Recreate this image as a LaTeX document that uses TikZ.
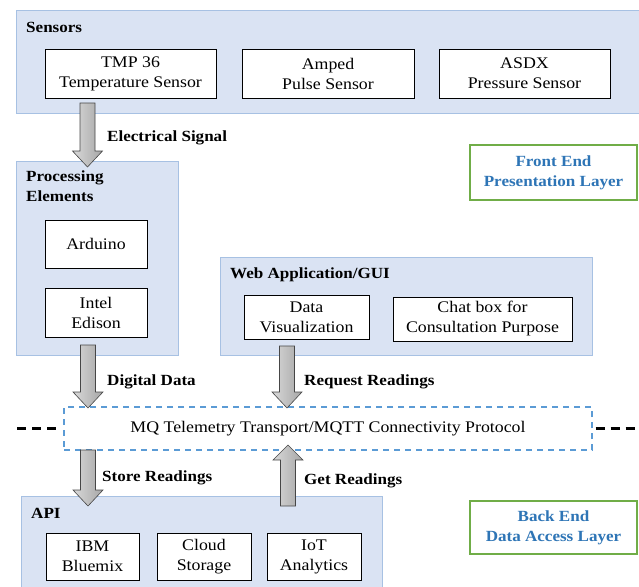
\documentclass[tikz,border=0pt]{standalone}
\usepackage{fontspec}
\setmainfont[FakeStretch=1.1]{Liberation Serif}
\usetikzlibrary{calc}

\definecolor{panelfill}{HTML}{DAE3F3}
\definecolor{panelline}{HTML}{A7C1E3}
\definecolor{layerblue}{HTML}{2E75B6}
\definecolor{layergreen}{HTML}{70AD47}
\definecolor{mqttline}{HTML}{5B9BD5}

\newcommand{\boxfont}{\fontsize{16.2}{20}\selectfont}
\newcommand{\headfont}{\fontsize{15.5}{20}\selectfont\bfseries}

\tikzset{
  panel/.style={draw=panelline, fill=panelfill, line width=0.8pt, anchor=north west, inner sep=0pt},
  item/.style={draw, fill=white, line width=0.9pt, align=center, inner sep=0pt},
  title/.style={anchor=west, font=\headfont, inner sep=0pt},
  flowlabel/.style={anchor=west, font=\headfont, inner sep=0pt},
  layer/.style={draw=layergreen, line width=1.2pt, fill=white, align=center, text=layerblue, font=\headfont, inner sep=0pt},
  barrow/.style={draw=gray!55!black, line width=0.6pt, left color=gray!30, right color=gray!70},
  sidedash/.style={line width=2.4pt, dash pattern=on 9pt off 6pt}
}

% block arrows: tail, tip
\newcommand{\arrdown}[2]{\draw[barrow] ($(#1)+(-7.5,0)$) -- ($(#2)+(-7.5,-16)$) -- ($(#2)+(-15,-16)$) -- (#2) -- ($(#2)+(15,-16)$) -- ($(#2)+(7.5,-16)$) -- ($(#1)+(7.5,0)$) -- cycle;}
\newcommand{\arrup}[2]{\draw[barrow] ($(#1)+(-7.5,0)$) -- ($(#2)+(-7.5,15)$) -- ($(#2)+(-15,15)$) -- (#2) -- ($(#2)+(15,15)$) -- ($(#2)+(7.5,15)$) -- ($(#1)+(7.5,0)$) -- cycle;}

\begin{document}
\begin{tikzpicture}[x=1pt, y=-1pt, font=\boxfont]
    \useasboundingbox (0,0) rectangle (639,586);
    % panels
    \node[panel, minimum width=625pt, minimum height=103pt] (sensors) at (16,10) {};
    \node[panel, minimum width=162pt, minimum height=194pt] (proc) at (16,161) {};
    \node[panel, minimum width=372pt, minimum height=98pt] (web) at (220,257) {};
    \node[panel, minimum width=361pt, minimum height=100pt] (api) at (21,496) {};
    \node[title] at (26,27) {Sensors};
    \node[title, anchor=north west, align=left] at (26,171) {Processing\\Elements};
    \node[title] at (230,275) {Web Application/GUI};
    \node[title] at (31,513) {API};

    % boxes
    \node[item, minimum width=171pt, minimum height=49pt] (tmp) at (130.5,73.5) {TMP 36\\Temperature Sensor};
    \node[item, minimum width=172pt, minimum height=49pt] (amped) at (328,73.5) {Amped\\Pulse Sensor};
    \node[item, minimum width=171pt, minimum height=49pt] (asdx) at (524.5,73.5) {ASDX\\Pressure Sensor};
    \node[item, minimum width=102pt, minimum height=48pt] (arduino) at (96,244) {Arduino};
    \node[item, minimum width=102pt, minimum height=49pt] (edison) at (96,312.5) {Intel\\Edison};
    \node[item, minimum width=125pt, minimum height=44pt] (dataviz) at (306.5,317) {Data\\Visualization};
    \node[item, minimum width=179pt, minimum height=44pt] (chat) at (482.5,319) {Chat box for\\Consultation Purpose};
    \node[item, minimum width=93pt, minimum height=47pt] (ibm) at (92.5,556.5) {IBM\\Bluemix};
    \node[item, minimum width=94pt, minimum height=47pt] (cloud) at (204,556.5) {Cloud\\Storage};
    \node[item, minimum width=94pt, minimum height=47pt] (iot) at (314,556.5) {IoT\\Analytics};
    \node[draw=mqttline, line width=1.2pt, dash pattern=on 6pt off 5pt, minimum width=528pt, minimum height=43pt, inner sep=0pt] (mqtt) at (328,428.5) {MQ Telemetry Transport/MQTT Connectivity Protocol};

    \node[layer, minimum width=167pt, minimum height=55pt] (front) at (553.5,172.5) {Front End\\Presentation Layer};
    \node[layer, minimum width=167pt, minimum height=53pt] (back) at (553.5,527.5) {Back End\\Data Access Layer};

    % side dashes
    \coordinate (lft) at (17,428.5);
    \coordinate (rgt) at (639,428.5);
    \draw[sidedash] (lft) -- ($(mqtt.west)+(-7,0)$);
    \draw[sidedash] ($(mqtt.east)+(3,0)$) -- (rgt);

    % arrows
    \coordinate (es-a) at (87.5,103);
    \coordinate (es-b) at (87.5,167);
    \coordinate (dd-a) at (88,345);
    \coordinate (dd-b) at (88,408);
    \coordinate (rr-a) at (287,346);
    \coordinate (rr-b) at (287,408);
    \coordinate (sr-a) at (88,450);
    \coordinate (sr-b) at (88,506);
    \coordinate (gr-a) at (288,506);
    \coordinate (gr-b) at (288,445);
    \arrdown{es-a}{es-b}
    \arrdown{dd-a}{dd-b}
    \arrdown{rr-a}{rr-b}
    \arrdown{sr-a}{sr-b}
    \arrup{gr-a}{gr-b}

    \node[flowlabel] at (107,138) {Electrical Signal};
    \node[flowlabel] at (107,382) {Digital Data};
    \node[flowlabel] at (304,382) {Request Readings};
    \node[flowlabel] at (102,478) {Store Readings};
    \node[flowlabel] at (304,481) {Get Readings};
\end{tikzpicture}
\end{document}
